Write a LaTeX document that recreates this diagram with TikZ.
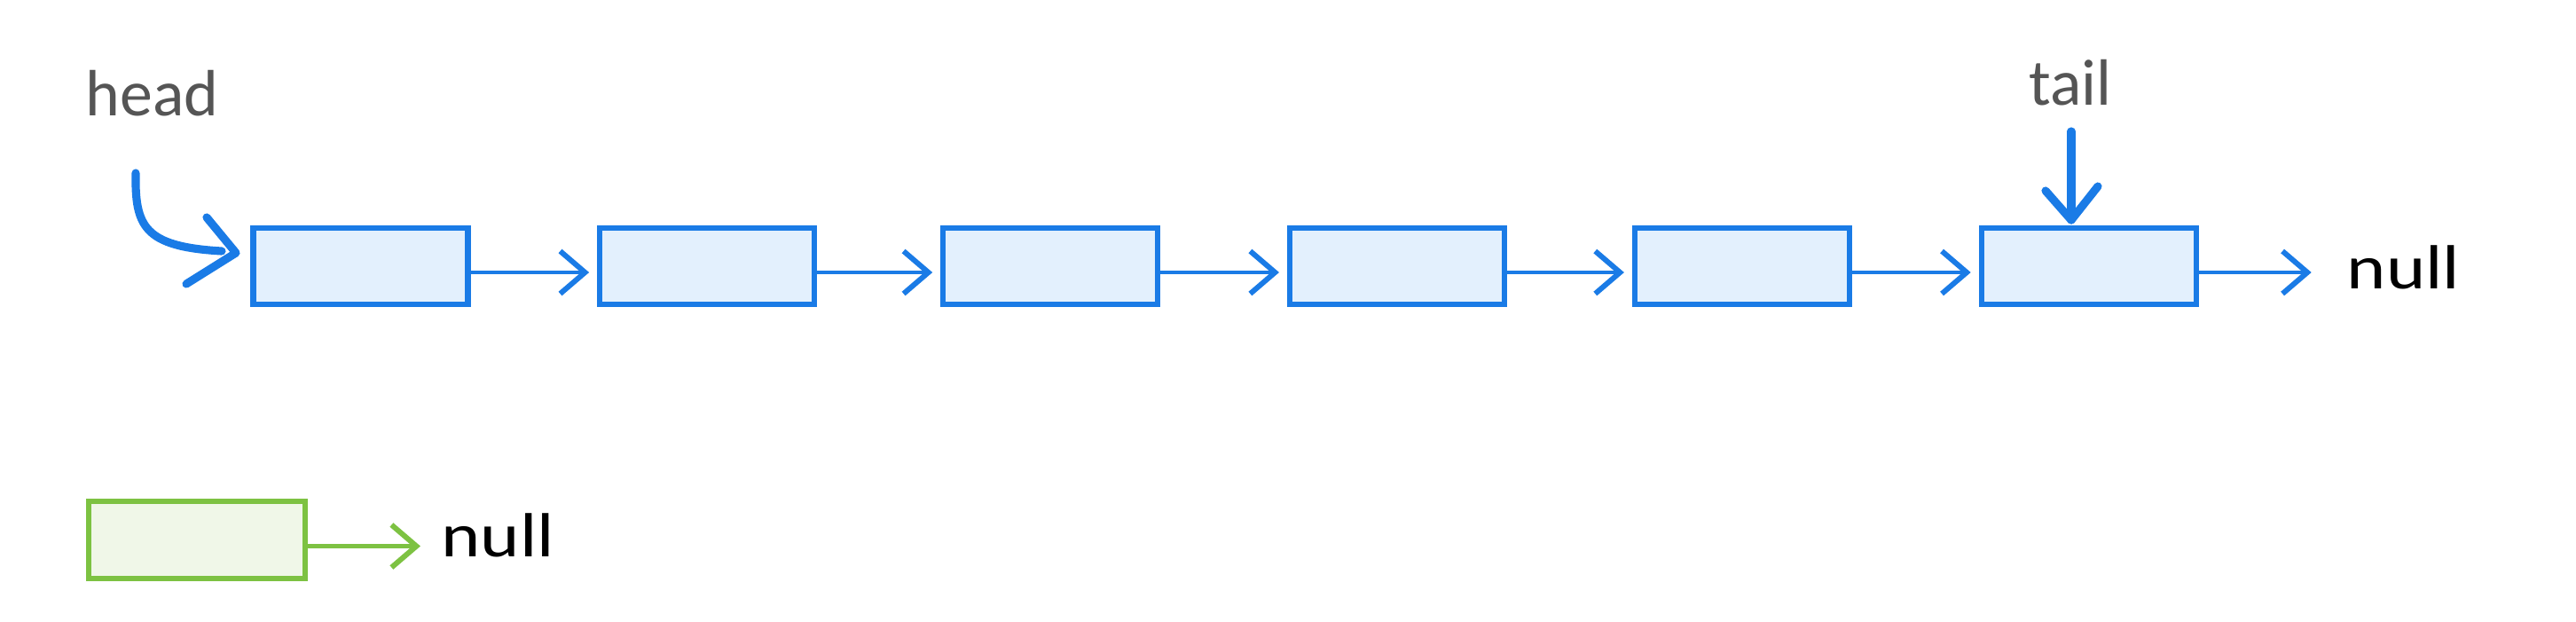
\documentclass[tikz,border=0pt]{standalone}
\usepackage{fontspec}
\setmainfont{Carlito}
\usetikzlibrary{arrows.meta}
\definecolor{lblue}{HTML}{1A7BE6}
\definecolor{lfill}{HTML}{E3F0FD}
\definecolor{lgreen}{HTML}{7DC242}
\definecolor{gfill}{HTML}{F0F7E8}
\definecolor{lbl}{HTML}{555555}
\begin{document}
\begin{tikzpicture}[
  nodebox/.style={draw=lblue, fill=lfill, line width=1.8pt, minimum width=2.42cm, minimum height=0.86cm, inner sep=0pt, outer sep=0pt, anchor=north west},
  greenbox/.style={nodebox, draw=lgreen, fill=gfill},
  conn/.style={draw=lblue, line width=1.2pt, line cap=round, -{Straight Barb[length=2.8mm,width=4.8mm,line width=1.7pt]}},
  gconn/.style={conn, draw=lgreen},
  ptr/.style={draw=lblue, line width=2.6pt, line cap=round, line join=round},
  lbltext/.style={text=lbl, font=\fontsize{21}{25}\selectfont, anchor=base west, inner sep=0pt},
  nulltext/.style={text=black, font=\fontsize{20}{24}\selectfont, anchor=base west, inner sep=0pt}
]
\useasboundingbox (0,0) rectangle (29.04,7);
\fill[white] (0,0) rectangle (29.04,7);

% list nodes
\node[nodebox] (b1) at (2.854,4.43) {};
\node[nodebox] (b2) at (6.761,4.43) {};
\node[nodebox] (b3) at (10.632,4.43) {};
\node[nodebox] (b4) at (14.540,4.43) {};
\node[nodebox] (b5) at (18.429,4.43) {};
\node[nodebox] (b6) at (22.337,4.43) {};

% links
\draw[conn, shorten >=0.12cm] ([yshift=-0.07cm]b1.east) -- ([yshift=-0.07cm]b2.west);
\draw[conn, shorten >=0.12cm] ([yshift=-0.07cm]b2.east) -- ([yshift=-0.07cm]b3.west);
\draw[conn, shorten >=0.12cm] ([yshift=-0.07cm]b3.east) -- ([yshift=-0.07cm]b4.west);
\draw[conn, shorten >=0.12cm] ([yshift=-0.07cm]b4.east) -- ([yshift=-0.07cm]b5.west);
\draw[conn, shorten >=0.12cm] ([yshift=-0.07cm]b5.east) -- ([yshift=-0.07cm]b6.west);

\draw[conn] ([yshift=-0.07cm]b6.east) -- ++(1.30,0) coordinate (nullend);
\node[nulltext] (null1) at (26.45,3.75) {\scalebox{1.2}[1]{null}};

% head pointer
\node[lbltext] (head) at (0.96,5.70) {head};
\coordinate (hs) at (1.53,5.05);
\coordinate (he) at (2.50,4.17);
\coordinate (htip) at (2.66,4.15);
\coordinate (hw1) at (2.33,4.55);
\coordinate (hw2) at (2.10,3.80);
\draw[ptr] (hs) .. controls (1.52,4.45) and (1.62,4.22) .. (he);
\draw[ptr] (hw1) -- (htip) -- (hw2);

% tail pointer
\node[lbltext] (tail) at (22.87,5.82) {tail};
\coordinate (ts) at (23.35,5.52);
\coordinate (ttip) at (23.35,4.52);
\draw[ptr] (ts) -- (ttip);
\draw[ptr] (23.06,4.85) -- (ttip) -- (23.65,4.90);

% green legend node
\node[greenbox, minimum width=2.44cm, minimum height=0.87cm] (g) at (1.00,1.35) {};
\draw[gconn] ([yshift=-0.07cm]g.east) -- ++(1.30,0) coordinate (gend);
\node[nulltext] (null2) at (4.97,0.73) {\scalebox{1.2}[1]{null}};
\end{tikzpicture}
\end{document}
